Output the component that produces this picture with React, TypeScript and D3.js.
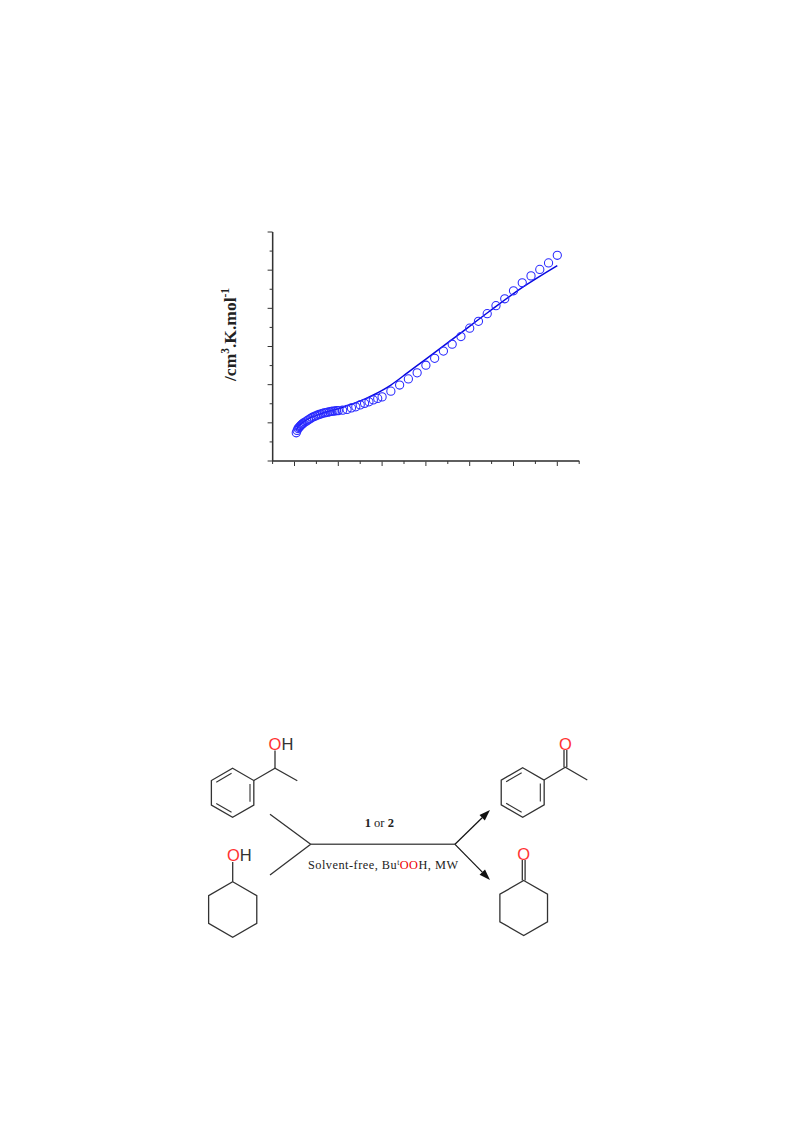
import React, { useEffect, useRef } from 'react';
import * as d3 from 'd3';

// Measured points (circles)
const measuredT = [2, 3, 4, 5, 6, 7, 8, 9, 10, 12, 14, 16, 18, 20, 22, 24, 26, 28, 30, 32, 34, 36, 38, 40, 42, 44, 46, 48, 50, 55, 60, 65, 70, 75, 80, 85, 90, 95, 100, 110, 120, 130, 140, 150, 160, 170, 180, 190, 200, 210, 220, 230, 240, 250, 260, 270, 280, 290, 300];
const measuredChi = [0.74, 0.8, 0.85, 0.88, 0.9, 0.93, 0.95, 0.97, 0.99, 1.02, 1.05, 1.08, 1.11, 1.14, 1.16, 1.18, 1.2, 1.22, 1.23, 1.25, 1.26, 1.27, 1.28, 1.29, 1.3, 1.31, 1.31, 1.32, 1.32, 1.33, 1.35, 1.39, 1.42, 1.47, 1.51, 1.55, 1.6, 1.64, 1.68, 1.83, 1.99, 2.15, 2.31, 2.51, 2.69, 2.88, 3.06, 3.26, 3.48, 3.66, 3.86, 4.07, 4.25, 4.46, 4.67, 4.85, 5.02, 5.19, 5.39];

// Fitted curve
const fitT = [2, 4, 6, 10, 15, 20, 30, 40, 50, 60, 70, 80, 90, 100, 110, 130, 150, 185, 223, 261, 300];
const fitChi = [0.8, 0.89, 0.95, 1.02, 1.09, 1.15, 1.24, 1.31, 1.37, 1.45, 1.53, 1.62, 1.73, 1.85, 1.99, 2.33, 2.67, 3.27, 3.93, 4.56, 5.12];

const xMajor = [0, 50, 100, 150, 200, 250, 300];
const xMinor = [-25, 25, 75, 125, 175, 225, 275, 325];
const yMajor = [0, 1, 2, 3, 4, 5, 6];
const yMinor = [0.5, 1.5, 2.5, 3.5, 4.5, 5.5];

const INK = '#333';
const RED = '#f33';

type Pt = [number, number];

const ring = (cx: number, cy: number, r: number): Pt[] =>
  d3.range(6).map(i => {
    const a = (Math.PI / 3) * i - Math.PI / 2;
    return [cx + r * Math.cos(a), cy + r * Math.sin(a)] as Pt;
  });

// Inner stroke of an aromatic bond, pulled toward the ring centre
const innerBond = (a: Pt, b: Pt, c: Pt): Pt[] => {
  const k = 0.82;
  const p = (q: Pt): Pt => [c[0] + (q[0] - c[0]) * k, c[1] + (q[1] - c[1]) * k];
  const pa = p(a);
  const pb = p(b);
  const t = 0.06;
  return [
    [pa[0] + (pb[0] - pa[0]) * t, pa[1] + (pb[1] - pa[1]) * t],
    [pb[0] + (pa[0] - pb[0]) * t, pb[1] + (pa[1] - pb[1]) * t],
  ];
};

const Bond: React.FC<{ pts: Pt[]; w?: number; closed?: boolean; color?: string }> = ({ pts, w = 1.3, closed, color = INK }) => (
  <path
    d={(closed ? d3.line().curve(d3.curveLinearClosed) : d3.line())(pts) || ''}
    fill="none"
    stroke={color}
    strokeWidth={w}
  />
);

const Benzene: React.FC<{ cx: number; cy: number; r: number }> = ({ cx, cy, r }) => {
  const v = ring(cx, cy, r);
  return (
    <g>
      <Bond pts={v} closed />
      {[[5, 0], [1, 2], [3, 4]].map(([a, b]) => (
        <Bond key={a} pts={innerBond(v[a], v[b], [cx, cy])} w={1.1} />
      ))}
    </g>
  );
};

const Atom: React.FC<{ x: number; y: number; label: string; color?: string }> = ({ x, y, label, color = INK }) => (
  <text x={x} y={y} textAnchor="middle" fontFamily="Liberation Sans" fontSize={16.5} fill={color}>{label}</text>
);

const Chart: React.FC = () => {
  const ref = useRef<SVGGElement>(null);

  useEffect(() => {
    if (!ref.current) return;
    const root = d3.select(ref.current);
    root.selectAll('*').remove();

    const x = d3.scaleLinear().domain([-25, 325]).range([272.6, 579.2]);
    const y = d3.scaleLinear().domain([0, 6]).range([461, 232]);

    const addAxis = (axis: d3.Axis<d3.NumberValue>, tx: number, ty: number, domainColor: string, domainWidth: number) => {
      const g = root.append('g')
        .attr('transform', `translate(${tx},${ty})`)
        .call(axis as any);
      g.selectAll('text').remove();
      g.selectAll('.domain').attr('stroke', domainColor).attr('stroke-width', domainWidth);
      g.selectAll('.tick line').attr('stroke', INK).attr('stroke-width', 1);
    };

    const none = () => '';
    addAxis(d3.axisBottom(x).tickValues(xMajor).tickSize(5).tickSizeOuter(0).tickFormat(none).offset(0), 0, 461, '#555', 1.7);
    addAxis(d3.axisBottom(x).tickValues(xMinor).tickSize(3).tickSizeOuter(0).tickFormat(none).offset(0), 0, 461, '#555', 1.7);
    addAxis(d3.axisLeft(y).tickValues(yMajor).tickSize(5).tickSizeOuter(0).tickFormat(none).offset(0), 272.6, 0, INK, 1.3);
    addAxis(d3.axisLeft(y).tickValues(yMinor).tickSize(3).tickSizeOuter(0).tickFormat(none).offset(0), 272.6, 0, INK, 1.3);

    const line = d3.line<number>()
      .x((_, i) => x(fitT[i]))
      .y(d => y(d))
      .curve(d3.curveMonotoneX);

    root.append('path')
      .datum(fitChi)
      .attr('fill', 'none')
      .attr('stroke', '#0808e0')
      .attr('stroke-width', 1.5)
      .attr('d', line);

    root.selectAll('circle.pt')
      .data(measuredChi)
      .enter()
      .append('circle')
      .attr('class', 'pt')
      .attr('cx', (_, i) => x(measuredT[i]))
      .attr('cy', d => y(d))
      .attr('r', 4.1)
      .attr('fill', 'none')
      .attr('stroke', '#2a2aff')
      .attr('stroke-width', 1.05);
  }, []);

  return <g ref={ref} />;
};

const Arrow: React.FC<{ from: Pt; to: Pt }> = ({ from, to }) => {
  const a = Math.atan2(to[1] - from[1], to[0] - from[0]);
  const len = 11;
  const half = 3.8;
  const bx = to[0] - len * Math.cos(a);
  const by = to[1] - len * Math.sin(a);
  const nx = -Math.sin(a) * half;
  const ny = Math.cos(a) * half;
  return (
    <g>
      <Bond pts={[from, [bx, by]]} color="#111" w={1.2} />
      <path d={`M${to[0]},${to[1]}L${bx + nx},${by + ny}L${bx - nx},${by - ny}Z`} fill="#111" />
    </g>
  );
};

const App: React.FC = () => (
  <svg
    width={793}
    height={1121}
    viewBox="0 0 793 1121"
    style={{ position: 'absolute', left: 0, top: 0, background: '#fff' }}
  >
    <Chart />
    <text
      transform="translate(235.5,381) rotate(-90)"
      fontFamily="Liberation Serif"
      fontWeight="bold"
      fontSize={17.5}
      fill="#222"
    >
      /cm<tspan fontSize={11.5} dy={-7}>3</tspan><tspan dy={7}>.K.mol</tspan><tspan fontSize={11.5} dy={-7}>-1</tspan>
    </text>

    {/* 1-phenylethanol */}
    <Benzene cx={232.6} cy={792.8} r={24.5} />
    <Bond pts={[[253.8, 780.5], [275, 768.3], [297.3, 780.7]]} />
    <Bond pts={[[275, 768.3], [275, 750.5]]} />
    <Atom x={275} y={750} label="O" color={RED} />
    <Atom x={287.5} y={750} label="H" />

    {/* cyclohexanol */}
    <Bond pts={ring(232.7, 909.5, 27.8)} closed />
    <Bond pts={[[232.7, 881.7], [232.7, 862]]} />
    <Atom x={233.3} y={861} label="O" color={RED} />
    <Atom x={245.8} y={861} label="H" />

    {/* reaction fork */}
    <Bond pts={[[270, 814.3], [310.7, 844.3], [270, 875]]} />
    <Bond pts={[[310.7, 844.3], [455, 844.3]]} w={1.5} color="#555" />
    <Arrow from={[455, 844.3]} to={[490, 810]} />
    <Arrow from={[455, 844.3]} to={[490, 880]} />

    <text x={379.3} y={826.5} textAnchor="middle" fontFamily="Liberation Serif" fontSize={12.5} fill="#222">
      <tspan fontWeight="bold">1</tspan> or <tspan fontWeight="bold">2</tspan>
    </text>
    <text x={308} y={869} fontFamily="Liberation Serif" fontSize={12.3} fill="#222" textLength={150}>
      Solvent-free, Bu<tspan fontSize={7.5} dy={-4}>t</tspan><tspan dy={4} fill="#e00">OO</tspan>H, MW
    </text>

    {/* acetophenone */}
    <Benzene cx={522.7} cy={792.5} r={24.8} />
    <Bond pts={[[544, 780], [565.3, 767.3], [587.3, 780]]} />
    <Bond pts={[[564, 767.3], [564, 750]]} />
    <Bond pts={[[566.8, 767.3], [566.8, 750]]} />
    <Atom x={565.3} y={749.5} label="O" color={RED} />

    {/* cyclohexanone */}
    <Bond pts={ring(523.7, 908, 27.5)} closed />
    <Bond pts={[[522.3, 880.5], [522.3, 860]]} />
    <Bond pts={[[525.1, 880.5], [525.1, 860]]} />
    <Atom x={523.7} y={859.5} label="O" color={RED} />
  </svg>
);

export default App;
